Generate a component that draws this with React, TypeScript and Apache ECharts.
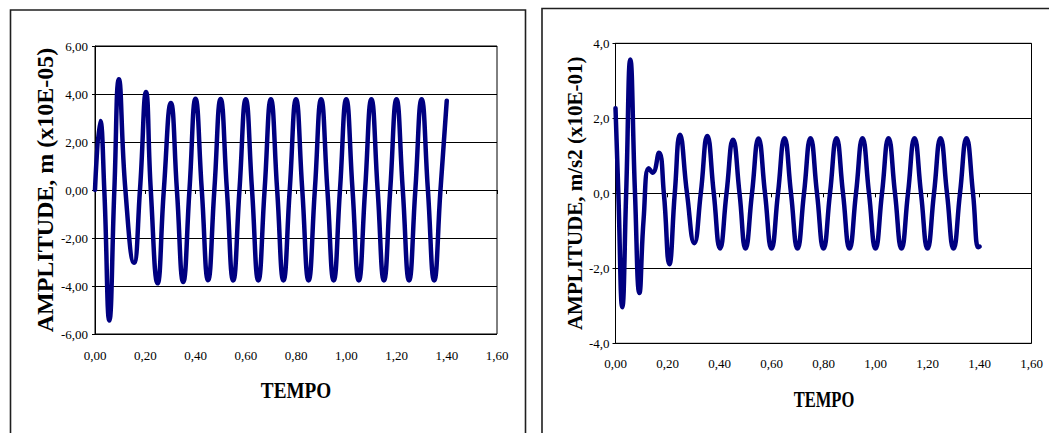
import React, { useEffect, useRef } from "react";
import * as echarts from "echarts";

// Displacement response, amplitude in m (x10E-05), against time
const dispTime = [
  0, 0.021, 0.037, 0.057, 0.077, 0.095, 0.121, 0.155, 0.179, 0.203, 0.222, 0.249, 0.274,
  0.302, 0.326, 0.351, 0.376, 0.4, 0.425, 0.45, 0.475, 0.5, 0.525, 0.55, 0.575, 0.6, 0.625,
  0.65, 0.675, 0.7, 0.725, 0.75, 0.775, 0.8, 0.825, 0.85, 0.875, 0.9, 0.925, 0.95, 0.975,
  1.0, 1.025, 1.05, 1.075, 1.1, 1.125, 1.15, 1.175, 1.2, 1.225, 1.25, 1.275, 1.3, 1.325,
  1.35, 1.375, 1.4,
];
const dispValue = [
  0, 2.87, 0, -5.44, 0, 4.61, 0, -3.03, 0, 4.08, 0, -3.89, 0,
  3.63, 0, -3.83, 0, 3.8, 0, -3.76, 0, 3.79, 0, -3.77, 0, 3.78, 0,
  -3.77, 0, 3.78, 0, -3.77, 0, 3.78, 0, -3.77, 0, 3.78, 0, -3.77, 0,
  3.78, 0, -3.77, 0, 3.78, 0, -3.77, 0, 3.78, 0, -3.77, 0, 3.78, 0,
  -3.77, 0, 3.72,
];

// Acceleration response, amplitude in m/s2 (x10E-01), against time
const accTime = [
  0, 0.011, 0.026, 0.041, 0.057, 0.075, 0.092, 0.108, 0.128, 0.143, 0.167, 0.186, 0.207,
  0.228, 0.248, 0.275, 0.303, 0.328, 0.353, 0.378, 0.402, 0.427, 0.452, 0.477, 0.5, 0.525,
  0.55, 0.575, 0.6, 0.625, 0.65, 0.675, 0.7, 0.725, 0.75, 0.775, 0.8, 0.825, 0.85, 0.875,
  0.9, 0.925, 0.95, 0.975, 1.0, 1.025, 1.05, 1.075, 1.1, 1.125, 1.15, 1.175, 1.2, 1.225,
  1.25, 1.275, 1.3, 1.325, 1.35, 1.375, 1.395, 1.4,
];
const accValue = [
  2.27, 0, -3.04, 0, 3.57, 0, -2.66, -0.7, 0.67, 0.55, 1.08, 0, -1.89,
  0, 1.56, 0, -1.33, 0, 1.53, 0, -1.47, 0, 1.43, 0, -1.47, 0,
  1.46, 0, -1.47, 0, 1.47, 0, -1.47, 0, 1.47, 0, -1.47, 0, 1.47, 0,
  -1.47, 0, 1.47, 0, -1.47, 0, 1.47, 0, -1.47, 0, 1.47, 0, -1.47, 0,
  1.47, 0, -1.47, 0, 1.47, 0, -1.44, -1.42,
];

// Axis ticks
const timeTicks = { min: 0, max: 1.6, interval: 0.2 };
const dispTicks = { min: -6, max: 6, interval: 2 };
const accTicks = { min: -4, max: 4, interval: 2 };

const yTitles = ["AMPLITUDE, m (x10E-05)", "AMPLITUDE, m/s2 (x10E-01)"];
const xTitle = "TEMPO";

const SERIF = "'Liberation Serif', 'Times New Roman', serif";
const NAVY = "#000080";

const comma = (digits: number) => (v: number) => v.toFixed(digits).replace(".", ",");

function buildPanel(
  gridIndex: number,
  yRange: { min: number; max: number; interval: number },
  yDigits: number,
  yTitle: string,
  yTitleSize: number,
  yNameGap: number,
  xLabelMargin: number,
  yLabelMargin: number
) {
  const xAxes = [
    {
      // bottom axis carrying the time labels
      type: "value",
      gridIndex,
      position: "bottom",
      ...timeTicks,
      axisLine: { show: false, onZero: false },
      axisTick: { show: false },
      splitLine: { show: false },
      axisLabel: {
        formatter: comma(2),
        fontFamily: SERIF,
        fontSize: 13,
        color: "#000",
        margin: xLabelMargin,
      },
    },
    {
      // axis line drawn through zero, with its tick marks
      type: "value",
      gridIndex,
      position: "bottom",
      ...timeTicks,
      axisLine: { show: true, onZero: true, lineStyle: { color: "#000", width: 1 } },
      axisTick: { show: true, inside: false, length: 4, lineStyle: { color: "#000" } },
      axisLabel: { show: false },
      splitLine: { show: false },
    },
  ];
  const yAxis = {
    type: "value",
    gridIndex,
    ...yRange,
    name: yTitle,
    nameLocation: "middle",
    nameRotate: 90,
    nameGap: yNameGap,
    nameTextStyle: {
      fontFamily: SERIF,
      fontWeight: "bold",
      fontSize: yTitleSize,
      color: "#000",
    },
    axisLine: { show: true, onZero: false, lineStyle: { color: "#000", width: 1 } },
    axisTick: { show: true, length: 3, lineStyle: { color: "#000" } },
    axisLabel: {
      formatter: comma(yDigits),
      fontFamily: SERIF,
      fontSize: 13,
      color: "#000",
      margin: yLabelMargin,
    },
    splitLine: { show: true, lineStyle: { color: "#000", width: 1 } },
  };
  return { xAxes, yAxis };
}

export default function App() {
  const ref = useRef<HTMLDivElement>(null);

  useEffect(() => {
    if (!ref.current) return;
    const chart = echarts.init(ref.current, null, { renderer: "svg" });

    const left = buildPanel(0, dispTicks, 2, yTitles[0], 24, 35, 15, 7);
    const right = buildPanel(1, accTicks, 1, yTitles[1], 21, 30, 14, 6);

    const dispData = dispTime.map((t, i) => [t, dispValue[i]]);
    const accData = accTime.map((t, i) => [t, accValue[i]]);

    chart.setOption({
      animation: false,
      backgroundColor: "#fff",
      grid: [
        {
          left: 95,
          top: 46,
          width: 402,
          height: 288,
          show: true,
          borderColor: "#000",
          borderWidth: 1,
          backgroundColor: "#fff",
        },
        {
          left: 615.5,
          top: 43.3,
          width: 416,
          height: 300,
          show: true,
          borderColor: "#000",
          borderWidth: 1,
          backgroundColor: "#fff",
        },
      ],
      xAxis: [...left.xAxes, ...right.xAxes],
      yAxis: [left.yAxis, right.yAxis],
      series: [
        {
          type: "line",
          xAxisIndex: 1,
          yAxisIndex: 0,
          data: dispData,
          smooth: 0.5,
          showSymbol: false,
          lineStyle: { color: NAVY, width: 4.5, cap: "round", join: "round" },
          z: 5,
        },
        {
          type: "line",
          xAxisIndex: 3,
          yAxisIndex: 1,
          data: accData,
          smooth: 0.5,
          showSymbol: false,
          lineStyle: { color: NAVY, width: 4.5, cap: "round", join: "round" },
          z: 5,
        },
      ],
      graphic: [
        {
          type: "rect",
          shape: { x: 10.5, y: 10, width: 515, height: 460 },
          style: { fill: "none", stroke: "#1f1f1f", lineWidth: 1.6 },
          silent: true,
          z: -10,
        },
        {
          type: "rect",
          shape: { x: 542, y: 8.5, width: 540, height: 460 },
          style: { fill: "none", stroke: "#1f1f1f", lineWidth: 1.6 },
          silent: true,
          z: -10,
        },
        {
          type: "text",
          x: 296,
          y: 390,
          scaleX: 0.8,
          style: {
            text: xTitle,
            fontFamily: SERIF,
            fontWeight: "bold",
            fontSize: 24,
            fill: "#000",
            textAlign: "center",
            textVerticalAlign: "middle",
          },
        },
        {
          type: "text",
          x: 824,
          y: 399,
          scaleX: 0.72,
          style: {
            text: xTitle,
            fontFamily: SERIF,
            fontWeight: "bold",
            fontSize: 23,
            fill: "#000",
            textAlign: "center",
            textVerticalAlign: "middle",
          },
        },
      ],
    });

    return () => chart.dispose();
  }, []);

  return (
    <div
      ref={ref}
      style={{ position: "absolute", left: 0, top: 0, width: 1049, height: 433 }}
    />
  );
}
